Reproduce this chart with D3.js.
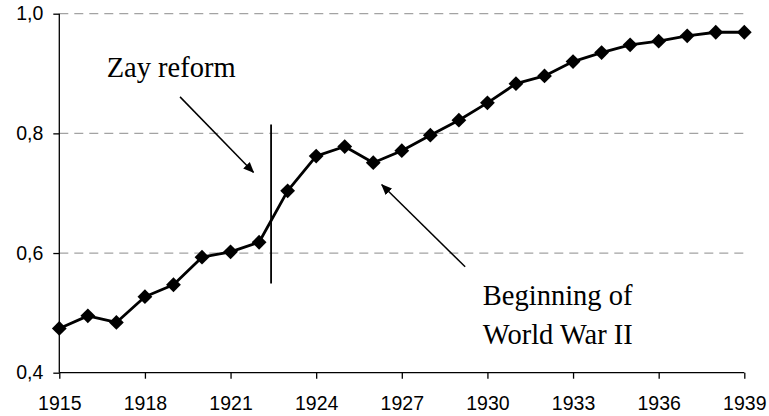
<!DOCTYPE html>
<html>
<head>
<meta charset="utf-8">
<script src="https://cdn.jsdelivr.net/npm/d3@7"></script>
<style>
  html, body { margin: 0; padding: 0; background: #fff; }
  svg { display: block; }
</style>
</head>
<body>
<svg id="chart" width="769" height="416"></svg>
<script>
// Annual series, 1915–1939
const years = d3.range(1915, 1940);
const values = [
  0.474, 0.495, 0.484, 0.527, 0.547, 0.593, 0.602, 0.618, 0.704, 0.762,
  0.778, 0.751, 0.771, 0.797, 0.822, 0.851, 0.883, 0.896, 0.920, 0.935,
  0.948, 0.954, 0.963, 0.969, 0.969
];
const xTicks = [1915, 1918, 1921, 1924, 1927, 1930, 1933, 1936, 1939];
const yTicks = [0.4, 0.6, 0.8, 1.0];
const gridValues = [0.6, 0.8, 1.0];

// Annotations, in data units
const reformYear = 1922.42;
const reformSpan = [0.549, 0.815];
const labels = [
  { lines: ["Zay reform"], x: 1916.66, y: 0.894 },
  { lines: ["Beginning of", "World War II"], x: 1929.84, y: 0.513 }
];
const arrows = [
  { from: [1919.23, 0.861], to: [1921.80, 0.735] },
  { from: [1929.22, 0.577], to: [1926.30, 0.714] }
];

const SANS = "Liberation Sans";
const SERIF = "Liberation Serif";

const svg = d3.select("#chart");
const x = d3.scaleLinear().domain([1915, 1939]).range([59.3, 744.3]);
const y = d3.scaleLinear().domain([0.4, 1.0]).range([372.7, 13.7]);
const fmt = v => d3.format(".1f")(v).replace(".", ",");

// Dashed horizontal gridlines
svg.append("g")
  .selectAll("line")
  .data(gridValues)
  .join("line")
  .attr("x1", x(1915)).attr("x2", x(1939))
  .attr("y1", d => y(d)).attr("y2", d => y(d))
  .attr("stroke", "#a3a3a3")
  .attr("stroke-width", 1.2)
  .attr("stroke-dasharray", "9,6");

// Axes
const gx = svg.append("g")
  .attr("transform", `translate(0,${y(0.4)})`)
  .call(d3.axisBottom(x).tickValues(xTicks).tickFormat(d3.format("d")).tickSize(6).tickPadding(17));
const gy = svg.append("g")
  .attr("transform", `translate(${x(1915)},0)`)
  .call(d3.axisLeft(y).tickValues(yTicks).tickFormat(fmt).tickSize(6).tickPadding(10));
[gx, gy].forEach(g => {
  g.attr("font-family", SANS).attr("font-size", 19.5);
  g.select(".domain").attr("stroke", "#000").attr("stroke-width", 1.3);
  g.selectAll(".tick line").attr("stroke", "#000").attr("stroke-width", 1.3);
  g.selectAll(".tick text").attr("fill", "#000");
});
gx.select(".domain").attr("d", `M${x(1915)},0H${x(1939)}`);
gy.select(".domain").attr("d", `M0,${y(0.4)}V${y(1.0)}`);

// Series line
const pts = years.map((yr, i) => [yr, values[i]]);
svg.append("path")
  .datum(pts)
  .attr("fill", "none")
  .attr("stroke", "#000")
  .attr("stroke-width", 2.8)
  .attr("stroke-linejoin", "round")
  .attr("d", d3.line().x(d => x(d[0])).y(d => y(d[1])));

// Diamond markers
const r = 7.4;
svg.append("g")
  .selectAll("path")
  .data(pts)
  .join("path")
  .attr("d", d => {
    const cx = x(d[0]), cy = y(d[1]);
    return `M${cx},${cy - r}L${cx + r},${cy}L${cx},${cy + r}L${cx - r},${cy}Z`;
  })
  .attr("fill", "#000");

// Reform marker line
svg.append("line")
  .attr("x1", x(reformYear)).attr("x2", x(reformYear))
  .attr("y1", y(reformSpan[0])).attr("y2", y(reformSpan[1]))
  .attr("stroke", "#000")
  .attr("stroke-width", 1.8);

// Arrows
svg.append("defs").append("marker")
  .attr("id", "head")
  .attr("viewBox", "0 0 10 10")
  .attr("refX", 9).attr("refY", 5)
  .attr("markerWidth", 11).attr("markerHeight", 11)
  .attr("markerUnits", "userSpaceOnUse")
  .attr("orient", "auto")
  .append("path")
  .attr("d", "M0,0.8L10,5L0,9.2Z")
  .attr("fill", "#000");

svg.append("g")
  .selectAll("line")
  .data(arrows)
  .join("line")
  .attr("x1", d => x(d.from[0])).attr("y1", d => y(d.from[1]))
  .attr("x2", d => x(d.to[0])).attr("y2", d => y(d.to[1]))
  .attr("stroke", "#000")
  .attr("stroke-width", 1.5)
  .attr("marker-end", "url(#head)");

// Annotation text
labels.forEach(l => {
  const t = svg.append("text")
    .attr("x", x(l.x)).attr("y", y(l.y))
    .attr("fill", "#000")
    .attr("font-family", SERIF)
    .attr("font-size", 28.5);
  l.lines.forEach((s, i) => {
    t.append("tspan")
      .attr("x", x(l.x))
      .attr("dy", i === 0 ? 0 : 39)
      .text(s);
  });
});
</script>
</body>
</html>
